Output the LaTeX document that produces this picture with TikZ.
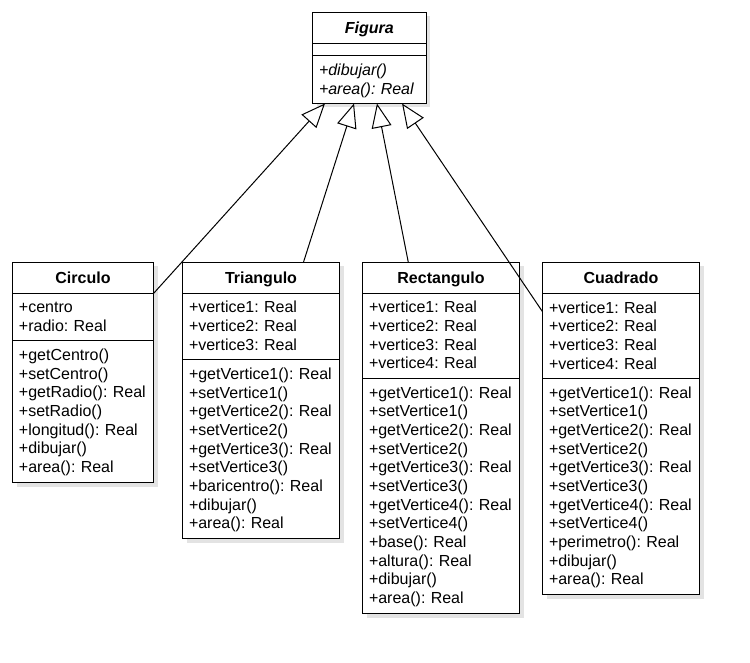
\documentclass[tikz,border=0pt]{standalone}
\usepackage{fontspec}
\setmainfont{Liberation Sans}
\usetikzlibrary{arrows.meta,calc,backgrounds}
\newcommand\umlfont{\fontsize{16pt}{18.67pt}\selectfont\lineskiplimit=-5pt\relax}
\newcommand\umlstrut{\rule[-4.2pt]{0pt}{18.67pt}}
\tikzset{
  umlbox/.style={draw=black, fill=white, line width=1pt, outer sep=0pt, anchor=north west, inner sep=0pt},
  umltitle/.style={umlbox, font=\umlfont\bfseries, align=center, text width=#1, minimum height=31pt},
  umlcomp/.style 2 args={umlbox, font=\umlfont, align=left, text width=#1, inner xsep=6.5pt, minimum height=#2},
  umlshadow/.style={fill=black!11},
  inh/.style={draw=black, line width=1pt, -{Triangle[open, length=24pt, width=20pt]}},
}
\begin{document}
\begin{tikzpicture}[x=1pt,y=-1pt]
\useasboundingbox (0,0) rectangle (750,663);
% Figura
\node[umltitle=113.5pt, font=\umlfont\bfseries\itshape] (ft) at (312.5,12.5) {\umlstrut Figura};
\node[umlcomp={100.5pt}{12.5pt}] (fa) at (ft.south west) {};
\node[umlcomp={100.5pt}{47.5pt}, font=\umlfont\itshape] (fm) at (fa.south west) {\umlstrut+dibujar()\\\umlstrut+area():~Real};
% Circulo
\node[umltitle=141pt] (ct) at (12.5,262.5) {\umlstrut Circulo};
\node[umlcomp={128pt}{47pt}] (ca) at (ct.south west) {\umlstrut+centro\\\umlstrut+radio:~Real};
\node[umlcomp={128pt}{142pt}] (cm) at (ca.south west) {\umlstrut+getCentro()\\\umlstrut+setCentro()\\\umlstrut+getRadio():~Real\\\umlstrut+setRadio()\\\umlstrut+longitud():~Real\\\umlstrut+dibujar()\\\umlstrut+area():~Real};
% Triangulo
\node[umltitle=157pt] (tt) at (182.5,262.5) {\umlstrut Triangulo};
\node[umlcomp={144pt}{66pt}] (ta) at (tt.south west) {\umlstrut+vertice1:~Real\\\umlstrut+vertice2:~Real\\\umlstrut+vertice3:~Real};
\node[umlcomp={144pt}{179pt}] (tm) at (ta.south west) {\umlstrut+getVertice1():~Real\\\umlstrut+setVertice1()\\\umlstrut+getVertice2():~Real\\\umlstrut+setVertice2()\\\umlstrut+getVertice3():~Real\\\umlstrut+setVertice3()\\\umlstrut+baricentro():~Real\\\umlstrut+dibujar()\\\umlstrut+area():~Real};
% Rectangulo
\node[umltitle=157pt] (rt) at (362.5,262.5) {\umlstrut Rectangulo};
\node[umlcomp={144pt}{84.5pt}] (ra) at (rt.south west) {\umlstrut+vertice1:~Real\\\umlstrut+vertice2:~Real\\\umlstrut+vertice3:~Real\\\umlstrut+vertice4:~Real};
\node[umlcomp={144pt}{235.5pt}] (rm) at (ra.south west) {\umlstrut+getVertice1():~Real\\\umlstrut+setVertice1()\\\umlstrut+getVertice2():~Real\\\umlstrut+setVertice2()\\\umlstrut+getVertice3():~Real\\\umlstrut+setVertice3()\\\umlstrut+getVertice4():~Real\\\umlstrut+setVertice4()\\\umlstrut+base():~Real\\\umlstrut+altura():~Real\\\umlstrut+dibujar()\\\umlstrut+area():~Real};
% Cuadrado
\node[umltitle=157pt] (qt) at (542.5,262.5) {\umlstrut Cuadrado};
\node[umlcomp={144pt}{85pt}] (qa) at (qt.south west) {\umlstrut+vertice1:~Real\\\umlstrut+vertice2:~Real\\\umlstrut+vertice3:~Real\\\umlstrut+vertice4:~Real};
\node[umlcomp={144pt}{216pt}] (qm) at (qa.south west) {\umlstrut+getVertice1():~Real\\\umlstrut+setVertice1()\\\umlstrut+getVertice2():~Real\\\umlstrut+setVertice2()\\\umlstrut+getVertice3():~Real\\\umlstrut+setVertice3()\\\umlstrut+getVertice4():~Real\\\umlstrut+setVertice4()\\\umlstrut+perimetro():~Real\\\umlstrut+dibujar()\\\umlstrut+area():~Real};
% shadows
\begin{pgfonlayer}{background}
\fill[umlshadow] ([shift={(4,4)}]ft.north west) rectangle ([shift={(4,4)}]fm.south east);
\fill[umlshadow] ([shift={(4,4)}]ct.north west) rectangle ([shift={(4,4)}]cm.south east);
\fill[umlshadow] ([shift={(4,4)}]tt.north west) rectangle ([shift={(4,4)}]tm.south east);
\fill[umlshadow] ([shift={(4,4)}]rt.north west) rectangle ([shift={(4,4)}]rm.south east);
\fill[umlshadow] ([shift={(4,4)}]qt.north west) rectangle ([shift={(4,4)}]qm.south east);
\end{pgfonlayer}
% inheritance
\draw[inh] (ct.south east) -- ($(fm.south west)!0.11!(fm.south east)$);
\draw[inh] ($(tt.north west)!0.77!(tt.north east)$) -- ($(fm.south west)!0.366!(fm.south east)$);
\draw[inh] ($(rt.north west)!0.292!(rt.north east)$) -- ($(fm.south west)!0.568!(fm.south east)$);
\draw[inh] ([yshift=-18.2pt]qa.north west) -- ($(fm.south west)!0.789!(fm.south east)$);
\end{tikzpicture}
\end{document}
